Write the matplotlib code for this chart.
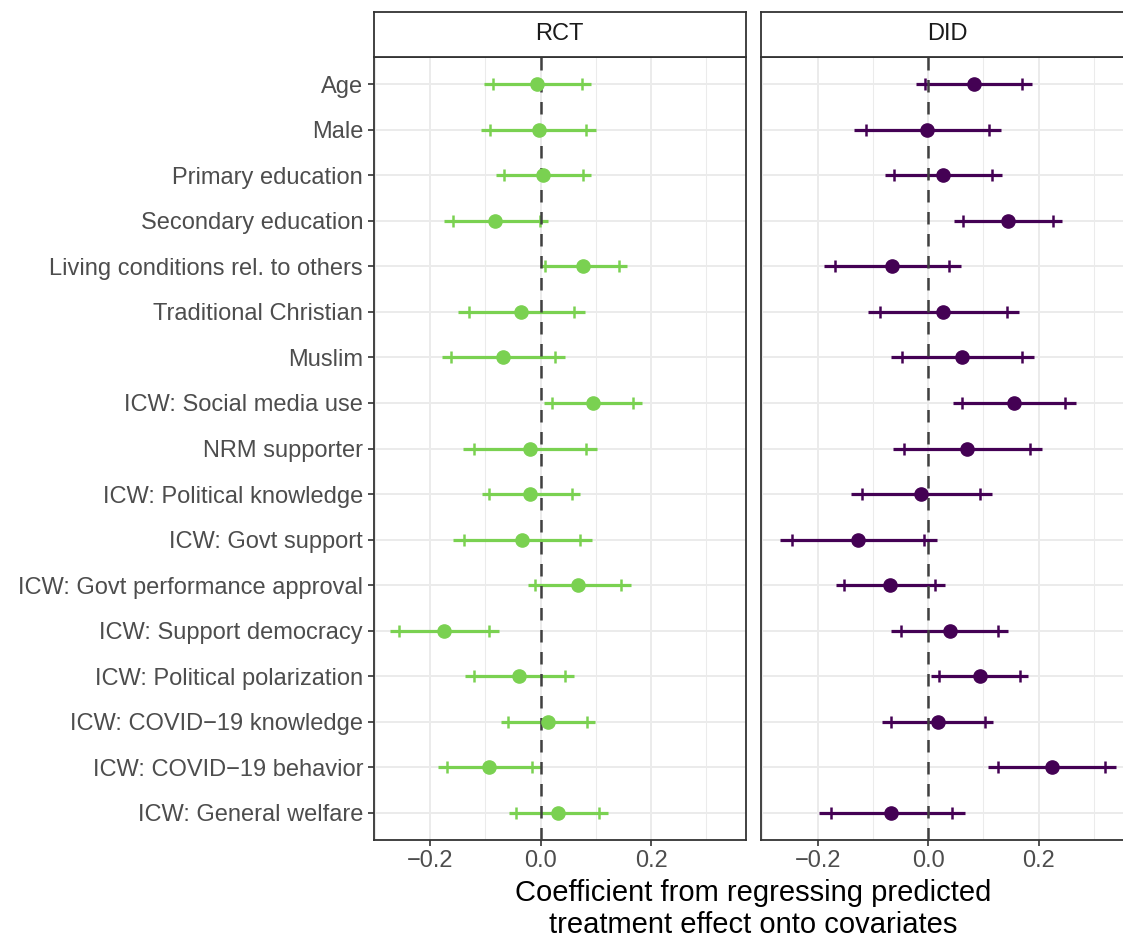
import numpy as np
import matplotlib
matplotlib.use("Agg")
import matplotlib.pyplot as plt

plt.rcParams['font.family'] = ['Liberation Sans', 'DejaVu Sans']

covariates = ["Age", "Male", "Primary education", "Secondary education",
              "Living conditions rel. to others", "Traditional Christian", "Muslim",
              "ICW: Social media use", "NRM supporter", "ICW: Political knowledge",
              "ICW: Govt support", "ICW: Govt performance approval",
              "ICW: Support democracy", "ICW: Political polarization",
              "ICW: COVID\u221219 knowledge", "ICW: COVID\u221219 behavior",
              "ICW: General welfare"]

# RCT estimates with 95% and 90% intervals
rct_est = [-0.006, -0.004, 0.004, -0.082, 0.076, -0.035, -0.068, 0.094, -0.020,
           -0.019, -0.033, 0.068, -0.175, -0.039, 0.013, -0.094, 0.031]
rct_lo95 = [-0.102, -0.108, -0.081, -0.175, -0.002, -0.149, -0.179, 0.006, -0.140,
            -0.107, -0.158, -0.023, -0.272, -0.137, -0.071, -0.185, -0.058]
rct_lo90 = [-0.087, -0.091, -0.067, -0.159, 0.008, -0.130, -0.162, 0.020, -0.121,
            -0.093, -0.138, -0.010, -0.256, -0.121, -0.059, -0.170, -0.045]
rct_hi90 = [0.074, 0.082, 0.076, -0.002, 0.142, 0.061, 0.026, 0.167, 0.082,
            0.056, 0.072, 0.146, -0.094, 0.044, 0.084, -0.016, 0.106]
rct_hi95 = [0.091, 0.100, 0.091, 0.013, 0.157, 0.081, 0.044, 0.183, 0.102,
            0.071, 0.093, 0.163, -0.076, 0.061, 0.099, 0.001, 0.122]

# DID estimates with 95% and 90% intervals
did_est = [0.082, -0.002, 0.027, 0.144, -0.066, 0.027, 0.061, 0.155, 0.070,
           -0.013, -0.127, -0.070, 0.039, 0.093, 0.017, 0.224, -0.067]
did_lo95 = [-0.023, -0.134, -0.079, 0.047, -0.189, -0.109, -0.067, 0.045, -0.064,
            -0.140, -0.268, -0.167, -0.067, 0.005, -0.083, 0.109, -0.197]
did_lo90 = [-0.006, -0.113, -0.062, 0.063, -0.169, -0.088, -0.047, 0.062, -0.043,
            -0.120, -0.247, -0.152, -0.050, 0.019, -0.068, 0.127, -0.176]
did_hi90 = [0.169, 0.110, 0.116, 0.226, 0.038, 0.142, 0.169, 0.247, 0.184,
            0.094, -0.008, 0.012, 0.127, 0.166, 0.102, 0.320, 0.043]
did_hi95 = [0.187, 0.132, 0.134, 0.243, 0.059, 0.164, 0.191, 0.267, 0.206,
            0.116, 0.016, 0.030, 0.145, 0.181, 0.118, 0.340, 0.066]

panels = ["RCT", "DID"]
colors = ["#7AD151", "#440154"]
x_ticks = [-0.2, 0.0, 0.2]
x_minor = [-0.3, -0.1, 0.1, 0.3]

lo_all = min(rct_lo95 + did_lo95)
hi_all = max(rct_hi95 + did_hi95)
pad = 0.05 * (hi_all - lo_all)
xlim = (lo_all - pad, hi_all + pad)

W, H = 1123, 939
fig = plt.figure(figsize=(W / 100, H / 100), dpi=100)

panel_left = [373.5, 761]
panel_w = 372
panel_top, panel_bot = 57, 840
strip_top = 12
border = "#333333"
txt_size = 17

ypos = np.arange(len(covariates))
data = [(rct_est, rct_lo95, rct_lo90, rct_hi90, rct_hi95),
        (did_est, did_lo95, did_lo90, did_hi90, did_hi95)]

for k, name in enumerate(panels):
    ax = fig.add_axes([panel_left[k] / W, (H - panel_bot) / H,
                       panel_w / W, (panel_bot - panel_top) / H])
    est, lo95, lo90, hi90, hi95 = data[k]
    c = colors[k]

    ax.hlines(ypos, lo95, hi95, color=c, lw=2.3, zorder=3)
    ax.plot(lo90, ypos, ls="none", marker="|", ms=8, mew=1.8, color=c, zorder=3)
    ax.plot(hi90, ypos, ls="none", marker="|", ms=8, mew=1.8, color=c, zorder=3)
    zl = ax.axvline(0, color="#404040", lw=1.8, zorder=4)
    zl.set_dashes((5, 3.8))
    ax.plot(est, ypos, ls="none", marker="o", ms=9.5, color=c, zorder=5)

    ax.set_xlim(*xlim)
    ax.set_ylim(len(covariates) - 0.4, -0.6)
    ax.set_xticks(x_ticks)
    ax.set_xticklabels(["\u22120.2", "0.0", "0.2"])
    ax.set_xticks(x_minor, minor=True)
    ax.set_yticks(ypos)

    ax.grid(which="major", color="#EBEBEB", lw=1.4, zorder=0)
    ax.grid(which="minor", axis="x", color="#EBEBEB", lw=0.75, zorder=0)
    ax.set_axisbelow(True)
    ax.tick_params(axis="both", which="major", labelsize=txt_size, labelcolor="#4D4D4D",
                   color=border, length=4, width=1.2, pad=3.5)
    ax.tick_params(axis="x", which="minor", length=0)
    if k == 0:
        ax.set_yticklabels(covariates)
    else:
        ax.set_yticklabels([])
        ax.tick_params(axis="y", which="both", length=0)
    for sp in ax.spines.values():
        sp.set_color(border)
        sp.set_linewidth(1.3)

    # facet strip
    sax = fig.add_axes([panel_left[k] / W, (H - panel_top) / H,
                        panel_w / W, (panel_top - strip_top) / H])
    sax.set_xticks([])
    sax.set_yticks([])
    for sp in sax.spines.values():
        sp.set_color(border)
        sp.set_linewidth(1.3)
    sax.text(0.5, 0.5, name, transform=sax.transAxes, ha="center", va="center",
             fontsize=txt_size, color="#1A1A1A")

x_center = (panel_left[0] + panel_left[1] + panel_w) / 2 / W
fig.text(x_center, 1 - 893 / H, "Coefficient from regressing predicted",
         ha="center", va="center", fontsize=21, color="black")
fig.text(x_center, 1 - 925 / H, "treatment effect onto covariates",
         ha="center", va="center", fontsize=21, color="black")

fig.savefig("out.png", dpi=100)
